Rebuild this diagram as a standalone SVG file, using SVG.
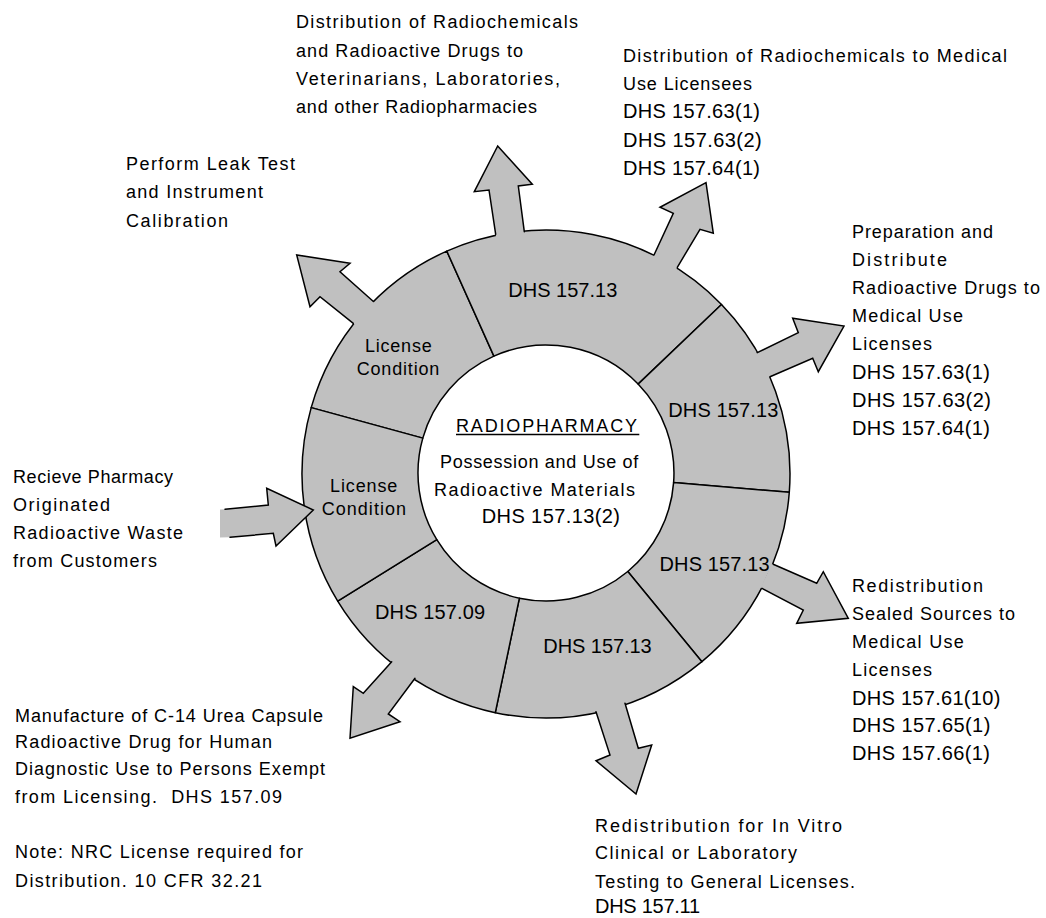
<svg xmlns="http://www.w3.org/2000/svg" width="1046" height="918" viewBox="0 0 1046 918">
<style>
.seg{fill:#c0c0c0;stroke:#000;stroke-width:1.5;stroke-linejoin:round}
.af{fill:#c0c0c0;stroke:none}
.as{fill:none;stroke:#000;stroke-width:1.5;stroke-linejoin:miter;stroke-linecap:round}
text{font-family:"Liberation Sans",Arial,sans-serif;fill:#000}
.t{font-size:18px}
.d{font-size:20px}
.ul{stroke:#000;stroke-width:1.5}
</style>
<rect width="1046" height="918" fill="#fff"/>

<g id="ring">
  <g id="seg-license-upper">
    <path class="seg" d="M311.2,407.6 A244,244 0 0 1 446.8,251.1 L493.9,356.1 A128,128 0 0 0 422.8,438.1 Z"/>
    <text class="t" x="365" y="351.7" textLength="66.7" lengthAdjust="spacing">License</text>
    <text class="t" x="356.7" y="375" textLength="82.6" lengthAdjust="spacing">Condition</text>
  </g>
  <g id="seg-top">
    <path class="seg" d="M446.8,251.1 A244,244 0 0 1 721.5,304.5 L638.1,384.1 A128,128 0 0 0 493.9,356.1 Z"/>
    <text class="d" x="508.3" y="297" textLength="109" lengthAdjust="spacing">DHS 157.13</text>
  </g>
  <g id="seg-right-upper">
    <path class="seg" d="M721.5,304.5 A244,244 0 0 1 789.3,492.3 L673.6,482.6 A128,128 0 0 0 638.1,384.1 Z"/>
    <text class="d" x="668.3" y="417.3" textLength="110" lengthAdjust="spacing">DHS 157.13</text>
  </g>
  <g id="seg-right-lower">
    <path class="seg" d="M789.3,492.3 A244,244 0 0 1 701.9,661.7 L627.8,571.5 A128,128 0 0 0 673.6,482.6 Z"/>
    <text class="d" x="659.5" y="570.7" textLength="110" lengthAdjust="spacing">DHS 157.13</text>
  </g>
  <g id="seg-bottom">
    <path class="seg" d="M701.9,661.7 A244,244 0 0 1 495.3,712.7 L519.4,598.2 A128,128 0 0 0 627.8,571.5 Z"/>
    <text class="d" x="543.3" y="653" textLength="108.4" lengthAdjust="spacing">DHS 157.13</text>
  </g>
  <g id="seg-157-09">
    <path class="seg" d="M495.3,712.7 A244,244 0 0 1 337.7,601.1 L436.8,539.7 A128,128 0 0 0 519.4,598.2 Z"/>
    <text class="d" x="375" y="619.3" textLength="110" lengthAdjust="spacing">DHS 157.09</text>
  </g>
  <g id="seg-license-lower">
    <path class="seg" d="M337.7,601.1 A244,244 0 0 1 311.2,407.6 L422.8,438.1 A128,128 0 0 0 436.8,539.7 Z"/>
    <text class="t" x="330" y="491.7" textLength="67.3" lengthAdjust="spacing">License</text>
    <text class="t" x="321.7" y="515" textLength="84.3" lengthAdjust="spacing">Condition</text>
  </g>
</g>

<g id="center">
  <text class="t" x="456" y="431.7" textLength="181" lengthAdjust="spacing">RADIOPHARMACY</text>
  <line class="ul" x1="456" y1="434.6" x2="639.3" y2="434.6"/>
  <text class="t" x="440" y="467.7" textLength="198.3" lengthAdjust="spacing">Possession and Use of</text>
  <text class="t" x="434" y="496" textLength="201" lengthAdjust="spacing">Radioactive Materials</text>
  <text class="d" x="481.7" y="523.3" textLength="138.3" lengthAdjust="spacing">DHS 157.13(2)</text>
</g>

<g id="connectors">
  <g id="arrow-leak">
    <path class="af" d="M376.2,304 L373.4,301.5 L340,271.7 L350,263.3 L296.7,255 L310,306.7 L320,296.7 L353.3,323.3 L357.8,327.3 Z"/>
    <path class="as" d="M373.4,301.5 L340,271.7 L350,263.3 L296.7,255 L310,306.7 L320,296.7 L353.3,323.3"/>
  </g>
  <g id="arrow-veterinarians">
    <path class="af" d="M525.2,237.6 L524.3,231.7 L518.3,186 L532.3,184.3 L497.7,146 L474.3,191.7 L489,190 L495.7,234.3 L496.6,240.2 Z"/>
    <path class="as" d="M524.3,231.7 L518.3,186 L532.3,184.3 L497.7,146 L474.3,191.7 L489,190 L495.7,234.3"/>
  </g>
  <g id="arrow-radiochemicals">
    <path class="af" d="M674.4,272.5 L677.3,267.3 L700,229.3 L713.3,233.3 L706,182.7 L660,207.3 L673.3,213.3 L654,255 L651.1,260.2 Z"/>
    <path class="as" d="M677.3,267.3 L700,229.3 L713.3,233.3 L706,182.7 L660,207.3 L673.3,213.3 L654,255"/>
  </g>
  <g id="arrow-preparation">
    <path class="af" d="M764.6,379.4 L770,376.7 L812.7,358.3 L818.3,371.7 L844,326 L792.7,318.3 L798.3,332.7 L757.3,352.7 L751.9,355.4 Z"/>
    <path class="as" d="M770,376.7 L812.7,358.3 L818.3,371.7 L844,326 L792.7,318.3 L798.3,332.7 L757.3,352.7"/>
  </g>
  <g id="arrow-sealed">
    <path class="af" d="M762,588.4 L803.3,610 L796.7,623.3 L848.3,618.3 L823.3,571.7 L816.7,583.3 L773.2,564.2 L771.5,563.5 A242.5,242.5 0 0 1 760.4,587.6 Z"/>
    <path class="as" d="M762,588.4 L803.3,610 L796.7,623.3 L848.3,618.3 L823.3,571.7 L816.7,583.3 L773.2,564.2"/>
  </g>
  <g id="arrow-invitro">
    <path class="af" d="M594.4,705.9 L596,711.7 L610,755 L596,760.7 L636,794 L651.7,745 L638.3,748.3 L625,703.3 L623.4,697.5 Z"/>
    <path class="as" d="M596,711.7 L610,755 L596,760.7 L636,794 L651.7,745 L638.3,748.3 L625,703.3"/>
  </g>
  <g id="arrow-urea">
    <path class="af" d="M418.5,673.4 L415,678.3 L388.3,714 L400,721.7 L350,738.3 L353.3,686.7 L363.3,693.3 L391.7,661.7 L395.2,656.8 Z"/>
    <path class="as" d="M415,678.3 L388.3,714 L400,721.7 L350,738.3 L353.3,686.7 L363.3,693.3 L391.7,661.7"/>
  </g>
  <g id="arrow-waste">
    <path class="af" d="M220,509.6 L225,509.3 L268.3,505 L266.7,488.3 L313.3,510 L276,546 L273.3,533.3 L230,537.3 L220,537.5 Z"/>
    <path class="as" d="M225,509.3 L268.3,505 L266.7,488.3 L313.3,510 L276,546 L273.3,533.3 L230,537.3"/>
  </g>
</g>

<g id="lbl-veterinarians">
  <text class="t" x="296" y="28.3" textLength="282" lengthAdjust="spacing">Distribution of Radiochemicals</text>
  <text class="t" x="296" y="56.7" textLength="227" lengthAdjust="spacing">and Radioactive Drugs to</text>
  <text class="t" x="296" y="85" textLength="264" lengthAdjust="spacing">Veterinarians, Laboratories,</text>
  <text class="t" x="296" y="113.3" textLength="241" lengthAdjust="spacing">and other Radiopharmacies</text>
</g>
<g id="lbl-leak">
  <text class="t" x="126" y="170" textLength="169" lengthAdjust="spacing">Perform Leak Test</text>
  <text class="t" x="126" y="198.3" textLength="137" lengthAdjust="spacing">and Instrument</text>
  <text class="t" x="126" y="226.7" textLength="102" lengthAdjust="spacing">Calibration</text>
</g>
<g id="lbl-radiochemicals">
  <text class="t" x="623" y="61.7" textLength="384" lengthAdjust="spacing">Distribution of Radiochemicals to Medical</text>
  <text class="t" x="623" y="90" textLength="129" lengthAdjust="spacing">Use Licensees</text>
  <text class="d" x="623" y="118.3" textLength="137" lengthAdjust="spacing">DHS 157.63(1)</text>
  <text class="d" x="623" y="146.6" textLength="138.7" lengthAdjust="spacing">DHS 157.63(2)</text>
  <text class="d" x="623" y="175" textLength="137" lengthAdjust="spacing">DHS 157.64(1)</text>
</g>
<g id="lbl-preparation">
  <text class="t" x="852" y="237.5" textLength="141" lengthAdjust="spacing">Preparation and</text>
  <text class="t" x="852" y="265.7" textLength="95" lengthAdjust="spacing">Distribute</text>
  <text class="t" x="852" y="293.9" textLength="188" lengthAdjust="spacing">Radioactive Drugs to</text>
  <text class="t" x="852" y="322.1" textLength="111" lengthAdjust="spacing">Medical Use</text>
  <text class="t" x="852" y="350.3" textLength="80" lengthAdjust="spacing">Licenses</text>
  <text class="d" x="852" y="378.5" textLength="138" lengthAdjust="spacing">DHS 157.63(1)</text>
  <text class="d" x="852" y="406.7" textLength="139" lengthAdjust="spacing">DHS 157.63(2)</text>
  <text class="d" x="852" y="434.9" textLength="138" lengthAdjust="spacing">DHS 157.64(1)</text>
</g>
<g id="lbl-sealed">
  <text class="t" x="852" y="591.7" textLength="131" lengthAdjust="spacing">Redistribution</text>
  <text class="t" x="852" y="619.5" textLength="163" lengthAdjust="spacing">Sealed Sources to</text>
  <text class="t" x="852" y="647.5" textLength="111.7" lengthAdjust="spacing">Medical Use</text>
  <text class="t" x="852" y="675.7" textLength="80" lengthAdjust="spacing">Licenses</text>
  <text class="d" x="852" y="705" textLength="148.3" lengthAdjust="spacing">DHS 157.61(10)</text>
  <text class="d" x="852" y="732" textLength="138.3" lengthAdjust="spacing">DHS 157.65(1)</text>
  <text class="d" x="852" y="760" textLength="138" lengthAdjust="spacing">DHS 157.66(1)</text>
</g>
<g id="lbl-invitro">
  <text class="t" x="595" y="831.7" textLength="247" lengthAdjust="spacing">Redistribution for In Vitro</text>
  <text class="t" x="595" y="859.3" textLength="202" lengthAdjust="spacing">Clinical or Laboratory</text>
  <text class="t" x="595" y="888.3" textLength="260" lengthAdjust="spacing">Testing to General Licenses.</text>
  <text class="d" x="595" y="912.7" textLength="105" lengthAdjust="spacing">DHS 157.11</text>
</g>
<g id="lbl-urea">
  <text class="t" x="15" y="721.7" textLength="308" lengthAdjust="spacing">Manufacture of C-14 Urea Capsule</text>
  <text class="t" x="15" y="748.3" textLength="257" lengthAdjust="spacing">Radioactive Drug for Human</text>
  <text class="t" x="15" y="775" textLength="310" lengthAdjust="spacing">Diagnostic Use to Persons Exempt</text>
  <text class="t" x="15" y="803.3" textLength="267" lengthAdjust="spacing" xml:space="preserve">from Licensing.  DHS 157.09</text>
  <text class="t" x="15" y="858.3" textLength="288" lengthAdjust="spacing">Note: NRC License required for</text>
  <text class="t" x="15" y="886.7" textLength="247" lengthAdjust="spacing">Distribution. 10 CFR 32.21</text>
</g>
<g id="lbl-waste">
  <text class="t" x="13" y="483.3" textLength="160" lengthAdjust="spacing">Recieve Pharmacy</text>
  <text class="t" x="13" y="510.7" textLength="97" lengthAdjust="spacing">Originated</text>
  <text class="t" x="13" y="539" textLength="170" lengthAdjust="spacing">Radioactive Waste</text>
  <text class="t" x="13" y="566.7" textLength="144" lengthAdjust="spacing">from Customers</text>
</g>
</svg>
